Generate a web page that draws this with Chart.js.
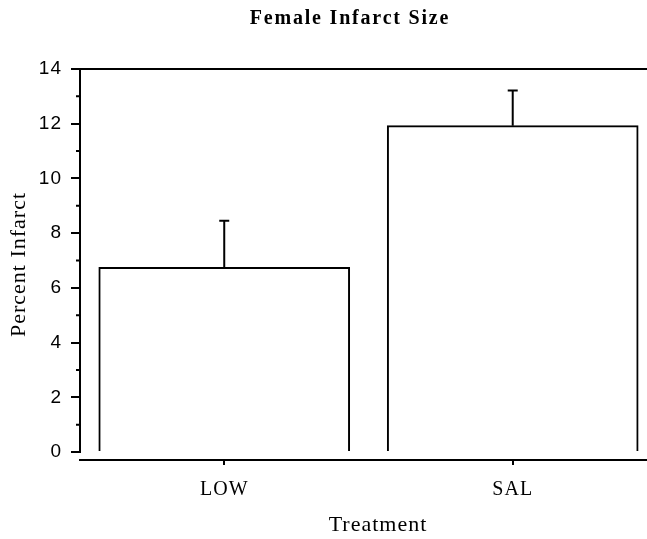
<!DOCTYPE html>
<html>
<head>
<meta charset="utf-8">
<title>Female Infarct Size</title>
<script src="https://cdn.jsdelivr.net/npm/chart.js@4.4.0/dist/chart.umd.min.js"></script>
<style>
  html, body { margin: 0; padding: 0; background: #fff; overflow: hidden; }
  canvas { display: block; }
</style>
</head>
<body>
<canvas id="chart" width="676" height="539"></canvas>
<script>
/* Female Infarct Size — outlined bars with upper error bars */
const TITLE = 'Female Infarct Size';
const CATEGORIES = ['LOW', 'SAL'];
const MEANS = [6.75, 11.93];
const ERR_UP = [1.70, 1.28];
const Y_TICKS = [0, 2, 4, 6, 8, 10, 12, 14];
const MINOR_TICKS = [1, 3, 5, 7, 9, 11, 13];
const Y_MIN = -0.29, Y_MAX = 14;
const X_MIN = -0.5, X_MAX = 1.566;

const SERIF = '"Liberation Serif", "Times New Roman", serif';
const SANS = '"Liberation Sans", Arial, sans-serif';

// the original figure has slightly spaced lettering everywhere
const spacing = {
  id: 'spacing',
  beforeDraw(chart) { chart.ctx.letterSpacing = '1px'; }
};

const plotTitle = {
  id: 'plotTitle',
  afterDraw(chart) {
    const ctx = chart.ctx;
    ctx.save();
    ctx.letterSpacing = '1.8px';
    ctx.font = 'bold 20px ' + SERIF;
    ctx.fillStyle = '#000';
    ctx.textAlign = 'center';
    ctx.textBaseline = 'alphabetic';
    ctx.fillText(TITLE, 350, 24);
    ctx.restore();
  }
};

// y axis line stops at 0, frame line on top, short minor ticks
const axisLines = {
  id: 'axisLines',
  afterDraw(chart) {
    const { ctx, chartArea, scales: { y } } = chart;
    const top = y.getPixelForValue(Y_MAX), zero = y.getPixelForValue(0);
    ctx.save();
    ctx.strokeStyle = '#000';
    ctx.lineWidth = 2;
    ctx.beginPath();
    ctx.moveTo(chartArea.left, zero + 1);
    ctx.lineTo(chartArea.left, top - 1);
    ctx.moveTo(chartArea.left - 1, top);
    ctx.lineTo(chartArea.right, top);
    MINOR_TICKS.forEach(v => {
      const py = y.getPixelForValue(v);
      ctx.moveTo(chartArea.left - 4, py);
      ctx.lineTo(chartArea.left, py);
    });
    ctx.stroke();
    ctx.restore();
  }
};

const errorBars = {
  id: 'errorBars',
  afterDatasetsDraw(chart) {
    const { ctx, scales: { x, y } } = chart;
    ctx.save();
    ctx.strokeStyle = '#000';
    ctx.lineWidth = 2;
    MEANS.forEach((m, i) => {
      const px = x.getPixelForValue(i);
      const yTop = y.getPixelForValue(m + ERR_UP[i]);
      const yBar = y.getPixelForValue(m);
      ctx.beginPath();
      ctx.moveTo(px, yBar);
      ctx.lineTo(px, yTop);
      ctx.moveTo(px - 5, yTop);
      ctx.lineTo(px + 5, yTop);
      ctx.stroke();
    });
    ctx.restore();
  }
};

new Chart(document.getElementById('chart').getContext('2d'), {
  type: 'bar',
  data: {
    datasets: [{
      label: 'Percent Infarct',
      data: MEANS.map((m, i) => ({ x: i, y: m })),
      backgroundColor: '#fff',
      borderColor: '#000',
      borderWidth: 2,
      borderSkipped: 'start',
      barThickness: 251
    }]
  },
  options: {
    responsive: false,
    animation: false,
    devicePixelRatio: 1,
    layout: { padding: { top: 69, left: 0, right: 0, bottom: 0 } },
    plugins: { legend: { display: false }, tooltip: { enabled: false } },
    scales: {
      x: {
        type: 'linear', min: X_MIN, max: X_MAX, offset: false,
        afterBuildTicks: s => { s.ticks = CATEGORIES.map((c, i) => ({ value: i })); },
        afterFit: s => { s.height = 79; },
        ticks: {
          callback: v => CATEGORIES[v],
          font: { family: SERIF, size: 20 }, color: '#000',
          padding: 13, maxRotation: 0, autoSkip: false
        },
        grid: { offset: false, drawOnChartArea: false, tickLength: 5, color: '#000', lineWidth: 2 },
        border: { display: true, color: '#000', width: 2 },
        title: {
          display: true, text: 'Treatment', color: '#000',
          font: { family: SERIF, size: 22 }, padding: { top: 0, bottom: 1 }
        }
      },
      y: {
        type: 'linear', min: Y_MIN, max: Y_MAX,
        afterBuildTicks: s => { s.ticks = Y_TICKS.map(v => ({ value: v })); },
        afterFit: s => { s.width = 80; },
        ticks: { font: { family: SANS, size: 19 }, color: '#000', padding: 9 },
        grid: { drawOnChartArea: false, tickLength: 9, color: '#000', lineWidth: 2 },
        border: { display: false },
        title: {
          display: true, text: 'Percent Infarct', color: '#000',
          font: { family: SERIF, size: 22 }, padding: { top: 6, bottom: 0 }
        }
      }
    }
  },
  plugins: [spacing, errorBars, axisLines, plotTitle]
});
</script>
</body>
</html>
